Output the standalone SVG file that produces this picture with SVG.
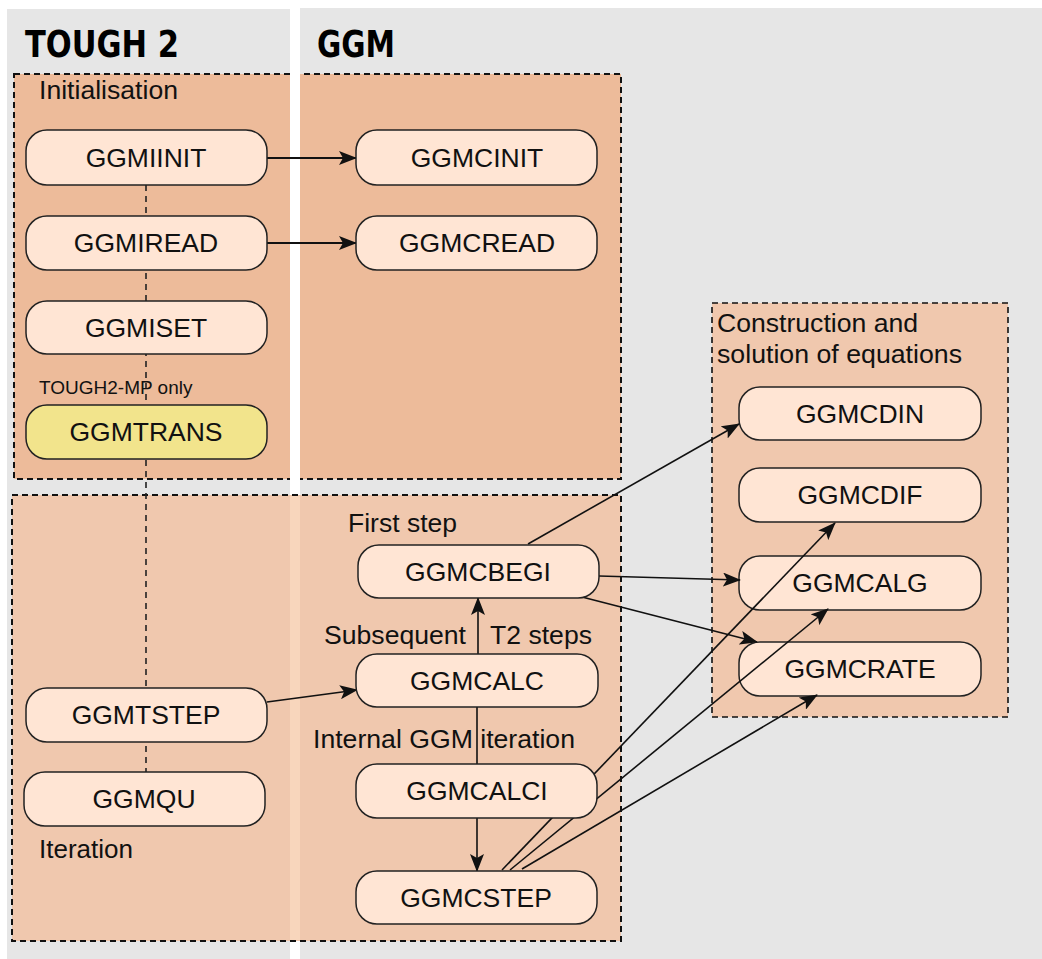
<svg xmlns="http://www.w3.org/2000/svg" width="1042" height="959" viewBox="0 0 1042 959">
<style>
.col{fill:#E6E6E6}
.dash{fill:none;stroke:#111;stroke-width:2;stroke-dasharray:6 4}
.node rect{fill:#FFE5D4;stroke:#222;stroke-width:1.5}
.node text{font-family:"Liberation Sans",Arial,sans-serif;font-size:26.5px;text-anchor:middle;fill:#111}
.lbl{font-family:"Liberation Sans",Arial,sans-serif;font-size:25.5px;fill:#111}
.hdr{font-family:"DejaVu Sans",sans-serif;font-weight:bold;font-size:38px;fill:#000}
.conn{fill:none;stroke:#111;stroke-width:1.6}
.conn2{fill:none;stroke:#111;stroke-width:2.2}
.vdash{fill:none;stroke:#222;stroke-width:1.6;stroke-dasharray:6 5}
</style>
<defs>
<marker id="arr" markerUnits="userSpaceOnUse" markerWidth="18" markerHeight="14" refX="17" refY="7" orient="auto">
<path d="M0,0 L18,7 L0,14 L4,7 z" fill="#111"/>
</marker>
</defs>
<rect width="1042" height="959" fill="#fff"/>
<rect class="col" x="7" y="9" width="283" height="950"/>
<rect class="col" x="300" y="8" width="742" height="951"/>
<text class="hdr" x="25" y="57" textLength="154" lengthAdjust="spacingAndGlyphs">TOUGH 2</text>
<text class="hdr" x="317" y="57" textLength="78" lengthAdjust="spacingAndGlyphs">GGM</text>

<g id="initialisation">
<rect x="14" y="74" width="276" height="405" fill="#EDBB9A"/>
<rect x="300" y="74" width="321" height="405" fill="#EDBB9A"/>
<rect class="dash" x="14" y="74" width="607" height="405"/>
<rect x="290" y="72" width="10" height="424" fill="#fff"/>
<text class="lbl" x="39" y="99" textLength="139" lengthAdjust="spacingAndGlyphs">Initialisation</text>
</g>
<g id="iteration">
<rect x="12" y="495" width="609" height="446" fill="#F0C8AE"/>
<rect x="290" y="496" width="10" height="444" fill="#F8D6BC"/>
<rect class="dash" x="12" y="495" width="609" height="446"/>
<text class="lbl" x="39" y="858" textLength="94" lengthAdjust="spacingAndGlyphs">Iteration</text>
<text class="lbl" x="348" y="532" textLength="109" lengthAdjust="spacingAndGlyphs">First step</text>
<text class="lbl" x="324" y="644" textLength="142" lengthAdjust="spacingAndGlyphs">Subsequent</text>
<text class="lbl" x="490" y="644" textLength="102" lengthAdjust="spacingAndGlyphs">T2 steps</text>
<text class="lbl" x="313" y="748" textLength="262" lengthAdjust="spacingAndGlyphs">Internal GGM iteration</text>
</g>
<g id="construction">
<rect x="712" y="303" width="296" height="414" fill="#F0C8AE"/>
<rect class="dash" x="712" y="303" width="296" height="414" style="stroke-width:1.6"/>
<text class="lbl" x="717" y="332" textLength="201" lengthAdjust="spacingAndGlyphs">Construction and</text>
<text class="lbl" x="717" y="363" textLength="245" lengthAdjust="spacingAndGlyphs">solution of equations</text>
</g>

<g id="GGMCDIN" class="node"><rect x="739" y="387" width="242" height="53" rx="21"/><text x="860" y="423">GGMCDIN</text></g>
<g id="GGMCDIF" class="node"><rect x="739" y="468" width="242" height="54" rx="21"/><text x="860" y="504">GGMCDIF</text></g>
<g id="GGMCALG" class="node"><rect x="739" y="556" width="242" height="54" rx="21"/><text x="860" y="592">GGMCALG</text></g>
<g id="GGMCRATE" class="node"><rect x="739" y="642" width="242" height="54" rx="21"/><text x="860" y="678">GGMCRATE</text></g>

<g id="connectors">
<line class="vdash" x1="146" y1="185" x2="146" y2="772"/>
<line class="conn2" x1="267" y1="158" x2="356" y2="158" marker-end="url(#arr)"/>
<line class="conn2" x1="267" y1="243" x2="356" y2="243" marker-end="url(#arr)"/>
<line class="conn" x1="267" y1="702" x2="357" y2="690" marker-end="url(#arr)"/>
<line class="conn" x1="478" y1="654" x2="478" y2="598" marker-end="url(#arr)"/>
<line class="conn" x1="477" y1="707" x2="477" y2="764"/>
<line class="conn" x1="477" y1="818" x2="477" y2="871" marker-end="url(#arr)"/>
<line class="conn" x1="528" y1="544" x2="739" y2="424" marker-end="url(#arr)"/>
<line class="conn" x1="599" y1="576" x2="740" y2="580" marker-end="url(#arr)"/>
<line class="conn" x1="582" y1="597" x2="757" y2="642" marker-end="url(#arr)"/>
<line class="conn" x1="502" y1="870" x2="835" y2="523" marker-end="url(#arr)"/>
<line class="conn" x1="510" y1="870" x2="828" y2="609" marker-end="url(#arr)"/>
<line class="conn" x1="522" y1="869" x2="817" y2="695" marker-end="url(#arr)"/>
</g>

<g id="GGMIINIT" class="node"><rect x="26" y="130" width="241" height="55" rx="21"/><text x="146" y="167">GGMIINIT</text></g>
<g id="GGMCINIT" class="node"><rect x="356" y="130" width="241" height="55" rx="21"/><text x="477" y="167">GGMCINIT</text></g>
<g id="GGMIREAD" class="node"><rect x="26" y="216" width="241" height="54" rx="21"/><text x="146" y="252">GGMIREAD</text></g>
<g id="GGMCREAD" class="node"><rect x="356" y="216" width="241" height="54" rx="21"/><text x="477" y="252">GGMCREAD</text></g>
<g id="GGMISET" class="node"><rect x="26" y="301" width="241" height="53" rx="21"/><text x="146" y="337">GGMISET</text></g>
<text class="lbl" x="39" y="394" style="font-size:19px">TOUGH2-MP only</text>
<g id="GGMTRANS" class="node"><rect x="26" y="405" width="241" height="54" rx="21" style="fill:#F2E48C"/><text x="146" y="441">GGMTRANS</text></g>
<g id="GGMTSTEP" class="node"><rect x="26" y="688" width="241" height="54" rx="21"/><text x="146" y="724">GGMTSTEP</text></g>
<g id="GGMQU" class="node"><rect x="24" y="772" width="241" height="54" rx="21"/><text x="144" y="808">GGMQU</text></g>
<g id="GGMCBEGI" class="node"><rect x="358" y="545" width="241" height="53" rx="21"/><text x="478" y="581">GGMCBEGI</text></g>
<g id="GGMCALC" class="node"><rect x="356" y="654" width="242" height="53" rx="21"/><text x="477" y="690">GGMCALC</text></g>
<g id="GGMCALCI" class="node"><rect x="356" y="764" width="241" height="54" rx="21"/><text x="477" y="800">GGMCALCI</text></g>
<g id="GGMCSTEP" class="node"><rect x="356" y="871" width="241" height="53" rx="21"/><text x="476" y="907">GGMCSTEP</text></g>
</svg>
